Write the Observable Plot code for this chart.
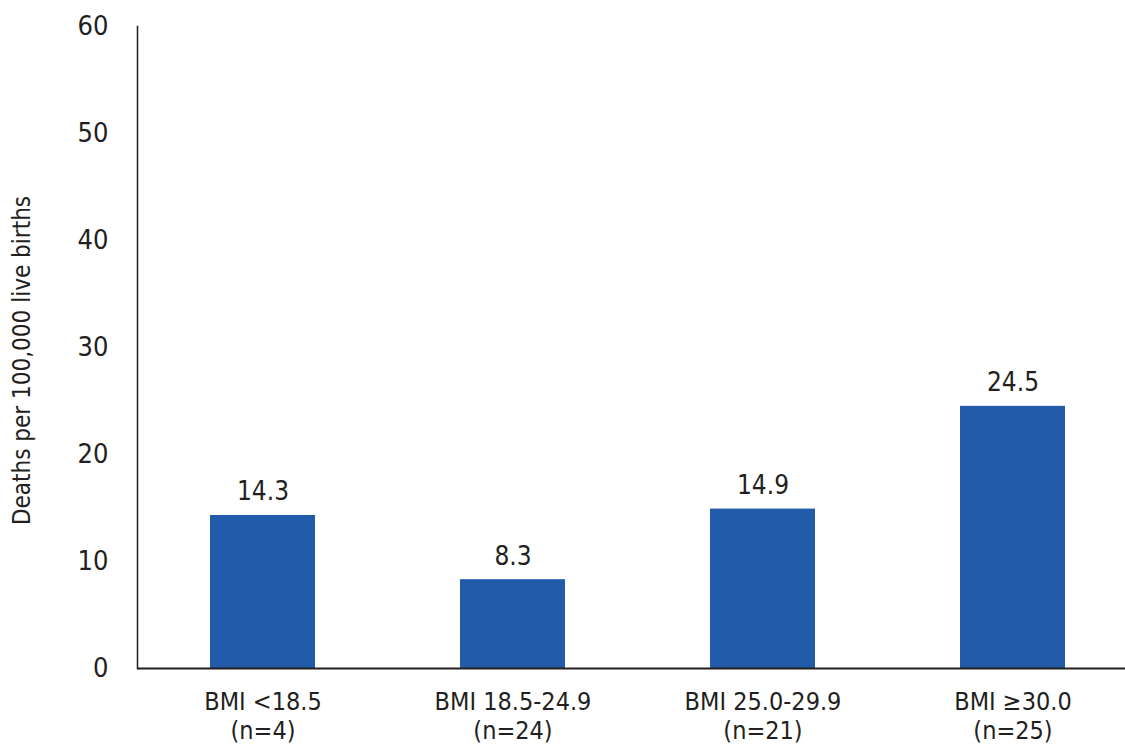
<!DOCTYPE html>
<html>
<head>
<meta charset="utf-8">
<script src="https://cdn.jsdelivr.net/npm/d3@7"></script>
<script src="https://cdn.jsdelivr.net/npm/@observablehq/plot@0.6"></script>
<style>
  html, body { margin: 0; padding: 0; background: #fff; }
  #chart svg { display: block; }
</style>
</head>
<body>
<div id="chart"></div>
<script>
const categories = ["BMI <18.5", "BMI 18.5-24.9", "BMI 25.0-29.9", "BMI \u226530.0"];
const counts = ["(n=4)", "(n=24)", "(n=21)", "(n=25)"];
const values = [14.3, 8.3, 14.9, 24.5];
const yTicks = [0, 10, 20, 30, 40, 50, 60];
const yTitle = "Deaths per 100,000 live births";

const data = categories.map((c, i) => ({cat: c, n: counts[i], value: values[i]}));
const labelOf = Object.fromEntries(categories.map((c, i) => [c, c + "\n" + counts[i]]));

const font = "'Liberation Sans Narrow', 'DejaVu Sans Condensed', Roboto, sans-serif";
const ink = "#231f20";

const chart = Plot.plot({
  width: 1125,
  height: 755,
  marginTop: 26,
  marginBottom: 87,
  marginLeft: 137,
  marginRight: 0,
  style: {fontFamily: font, color: ink, background: "#fff"},
  x: {domain: categories, range: [137.5, 1137.5], paddingInner: 0.58, paddingOuter: 0.29, label: null},
  y: {domain: [0, 60], ticks: yTicks, label: null},
  marks: [
    Plot.barY(data, {x: "cat", y: "value", fill: "#225ba9"}),
    Plot.axisY({ticks: yTicks, tickSize: 0, tickPadding: 29, fontSize: 27, label: null}),
    Plot.axisX({tickSize: 0, tickPadding: 21, fontSize: 25, lineHeight: 1.16, tickFormat: d => labelOf[d], label: null}),
    Plot.frame({anchor: "left", stroke: ink, strokeWidth: 1.5}),
    Plot.ruleY([0], {stroke: ink, strokeWidth: 2}),
    Plot.text(data, {x: "cat", y: "value", text: d => d.value.toFixed(1), lineAnchor: "bottom", dy: -15, fontSize: 26, fill: ink}),
    Plot.text([yTitle], {text: d => d, frameAnchor: "left", textAnchor: "middle", rotate: -90, dx: -115, dy: 13, fontSize: 24, fill: ink})
  ]
});
document.getElementById("chart").appendChild(chart);
</script>
</body>
</html>
